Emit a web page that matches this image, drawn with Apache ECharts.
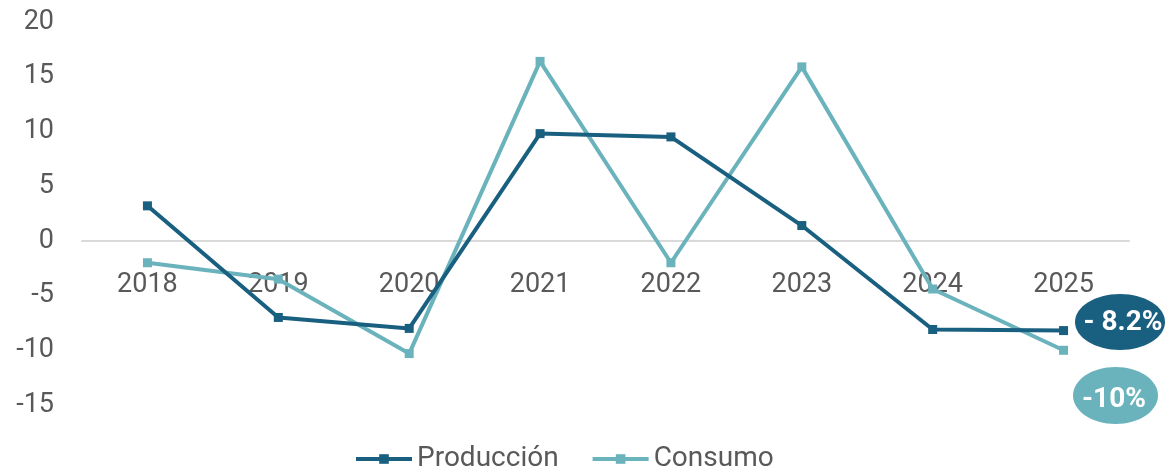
<!DOCTYPE html>
<html>
<head>
<meta charset="utf-8">
<script src="https://cdn.jsdelivr.net/npm/echarts@6/dist/echarts.min.js"></script>
<style>
  html, body { margin: 0; padding: 0; background: #fff; }
  #chart { width: 1167px; height: 468px; }
</style>
</head>
<body>
<div id="chart"></div>
<script>
// Annual change (%) of production and consumption
const years = ['2018', '2019', '2020', '2021', '2022', '2023', '2024', '2025'];
const produccion = [3.2, -7.0, -8.0, 9.8, 9.5, 1.4, -8.1, -8.2];
const consumo = [-2.0, -3.5, -10.3, 16.4, -2.0, 15.9, -4.4, -10.0];
const yTicks = { min: -15, max: 20, interval: 5 };

const darkBlue = '#195f80';
const teal = '#6ab3bc';
const textGray = '#595959';
const font = 'Roboto, "Noto Sans", sans-serif';

const gridTop = 22;
const gridBottom = 63;
const chartHeight = 468;
const plotHeight = chartHeight - gridTop - gridBottom;
// category axis sits on the zero line of the value axis
const zeroOffset = (0 - yTicks.min) / (yTicks.max - yTicks.min) * plotHeight;

const chart = echarts.init(document.getElementById('chart'), null, { renderer: 'canvas' });

const last = years.length - 1;
const prodLabel = (produccion[last] < 0 ? '- ' : '') + Math.abs(produccion[last]) + '%';
const consLabel = consumo[last] + '%';

chart.setOption({
  animation: false,
  backgroundColor: '#ffffff',
  grid: { left: 82, right: 38, top: gridTop, bottom: gridBottom, containLabel: false },
  legend: {
    top: 440,
    left: 349,
    itemWidth: 56,
    itemHeight: 12,
    itemGap: 32,
    lineStyle: { width: 4 },
    textStyle: { color: textGray, fontSize: 28, fontFamily: font },
    data: ['Producción', 'Consumo']
  },
  xAxis: {
    type: 'category',
    data: years,
    boundaryGap: true,
    position: 'bottom',
    offset: -zeroOffset,
    axisLine: { onZero: false, lineStyle: { color: '#d9d9d9', width: 2 } },
    axisTick: { show: false },
    axisLabel: { color: textGray, fontSize: 27, fontFamily: font, margin: 31 },
    splitLine: { show: false },
    z: 0
  },
  yAxis: {
    type: 'value',
    min: yTicks.min,
    max: yTicks.max,
    interval: yTicks.interval,
    axisLine: { show: false },
    axisTick: { show: false },
    splitLine: { show: false },
    axisLabel: { color: textGray, fontSize: 27, fontFamily: font, margin: 28 }
  },
  series: [
    {
      name: 'Producción',
      type: 'line',
      data: produccion,
      color: darkBlue,
      symbol: 'rect',
      symbolSize: 9,
      showAllSymbol: true,
      lineStyle: { width: 4, color: darkBlue },
      itemStyle: { color: darkBlue },
      z: 3
    },
    {
      name: 'Consumo',
      type: 'line',
      data: consumo,
      color: teal,
      symbol: 'rect',
      symbolSize: 9,
      showAllSymbol: true,
      lineStyle: { width: 4, color: teal },
      itemStyle: { color: teal },
      z: 2
    }
  ],
  graphic: [
    {
      type: 'group',
      left: 1075,
      top: 294,
      children: [
        { type: 'ellipse', shape: { cx: 45, cy: 28, rx: 45, ry: 28 }, style: { fill: darkBlue } },
        {
          type: 'text', x: 48, y: 29,
          style: { text: prodLabel, fill: '#ffffff', font: 'bold 28px ' + font, align: 'center', verticalAlign: 'middle' }
        }
      ]
    },
    {
      type: 'group',
      left: 1073,
      top: 367,
      children: [
        { type: 'ellipse', shape: { cx: 42.5, cy: 28.5, rx: 42.5, ry: 28.5 }, style: { fill: teal } },
        {
          type: 'text', x: 41, y: 33,
          style: { text: consLabel, fill: '#ffffff', font: 'bold 28px ' + font, align: 'center', verticalAlign: 'middle' }
        }
      ]
    }
  ]
});
</script>
</body>
</html>
